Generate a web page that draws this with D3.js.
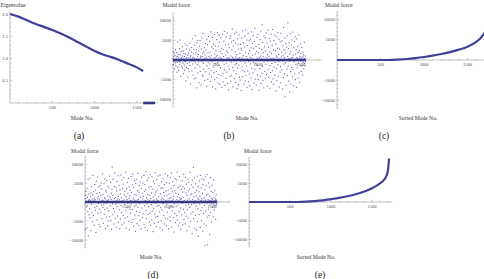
<!DOCTYPE html>
<meta charset="utf-8">
<style>
body { margin: 0; background: #ffffff; }
svg { display: block; }
.axis line, .axis path { stroke: #9a9a9a; stroke-width: 0.6px; fill: none; }
.ticklabel { font-family: "Liberation Serif", serif; font-size: 4.6px; fill: #555; }
.axislabel { font-family: "Liberation Serif", serif; font-size: 5.6px; fill: #333; }
.panel { font-family: "Liberation Serif", serif; font-size: 9.5px; fill: #222; text-anchor: middle; }
.curve { fill: none; stroke: #40409a; stroke-width: 2.2px; stroke-linejoin: round; }
.band { stroke: #34347f; stroke-width: 2.6px; }
.dot { fill: #4646b0; opacity: 0.85; }
</style>
<svg width=484 height=279></svg>
<script src="https://cdn.jsdelivr.net/npm/d3@7"></script>
<script>

// (a) eigenvalues against mode number
const eigenModes  = [0, 100, 200, 300, 400, 500, 600, 700, 800, 900, 1000, 1100, 1200, 1300, 1400, 1500, 1575];
const eigenValues = [2.0, 1.94, 1.86, 1.78, 1.71, 1.64, 1.56, 1.47, 1.37, 1.27, 1.17, 1.09, 1.03, 0.96, 0.88, 0.80, 0.72];
const eigenTail   = [1575, 1715];   // modes with zero eigenvalue

const eigenTicks = [0.5, 1.0, 1.5, 2.0];
const modeTicks  = [500, 1000, 1500];
const forceTicks = [-10000, -5000, 5000, 10000];

// (b) modal force, thousands, one value every 3 modes
const modeStep = 3;
const forceB = [
  0.3, -1.2, 0.8, 2.1, -0.4, 1.6, -2.3, 0.1, 1.1, -0.7, 2.6, -1.5, 0.5, -0.2, 1.9, -3.1, 0.9, -0.6, 4.6, -1.8,
  0.2, 1.4, -2.7, 0.7, -0.3, 2.9, -1.1, 5.1, -0.5, 1.3, -4.2, 0.4, 2.2, -1.6, 0.6, -0.1, 3.4, -2.0, 1.0, -0.8,
  2.4, -3.5, 0.3, 1.7, -1.3, 0.9, -2.6, 4.1, -0.4, 1.5, -5.3, 0.2, 2.8, -1.9, 0.6, 3.7, -0.9, -4.4, 1.2, 0.1,
  -2.2, 1.8, 0.5, -3.0, 2.5, -0.6, 4.3, -1.4, 0.8, -6.1, 1.1, 2.0, -0.2, 3.2, -2.8, 0.4, 5.4, -1.0, 0.7, -3.9, 1.6, -0.3, 2.7, -4.8,
  0.5, 3.8, -2.1, 6.2, -0.7, 1.9, -4.6, 0.3, 2.6, -7.1, 4.4, -1.2, 0.8, 5.0, -3.3, 1.4, -0.5, 2.3, -5.8, 0.2,
  3.5, -1.7, 4.9, -2.9, 0.6, 1.0, -6.4, 2.8, -0.3, 5.6, -3.8, 0.9, 1.7, -4.1, 6.8, -0.8, 2.1, -2.4, 0.4, 3.1,
  -5.2, 1.3, -0.1, 4.2, -3.0, 2.5, 0.7, -6.7, 5.3, -1.5, 0.3, 3.9, -4.9, 1.8, -0.6, 6.0, -2.2, 0.9, -3.6, 4.7,
  -1.0, 2.0, -5.5, 0.5, 7.2, -2.6, 1.1, -4.3, 3.3, -0.4, 5.8, -6.9, 0.2, 2.9, -1.8, 4.0, -3.2, 0.6, 6.5, -5.0, 1.5, -0.9, 3.6,
  -7.4, 2.4, 0.8, -2.9, 5.2, -4.5, 1.2, 7.0, -0.6, -5.9, 3.4, 0.3, -3.7, 6.3, -1.4, 4.5, -6.2, 0.7, 2.2, -2.0,
  5.7, -4.0, 0.4, 3.0, -7.0, 1.6, -0.2, 6.6, -3.4, 2.7, -5.6, 0.9, 4.8, -1.1, 7.3, -2.5, 0.1, -6.5, 3.8, 1.3,
  -4.7, 5.9, -0.8, 2.3, -3.1, 0.5, 6.9, -6.0, 1.9, -1.6, 4.1, -7.6, 0.6, 3.2, -2.3, 5.5, -4.2, 0.2, 6.1, -5.4,
  1.0, -0.5, 4.6, -3.9, 2.6, 7.9, -1.9, 0.7, -6.8, 3.6, 5.0, -2.7, 0.3, -4.8, 6.7, -1.2, 2.1, -5.7, 4.3, 0.8,
  -3.5, 7.1, -0.9, 1.4, -7.3, 5.4, -2.0, 0.4, 3.9, -6.3, 2.8, -1.3, 6.4, -4.4, 0.6, 1.7, -5.1, 4.0, -0.3, 3.0,
  -7.8, 2.5, 5.6, -1.7, 0.5, -4.3, 7.5, -2.6, 1.1, 4.4, -6.1, 0.2, 3.3, -3.0, 6.0, -0.7, -5.3, 2.0, 7.7, -4.0,
  0.9, -1.5, 5.1, -7.0, 3.7, 0.3, -2.8, 6.8, -5.5, 1.6, -0.4, 4.9, -3.6, 2.4, -6.6, 0.7, 5.3, -1.0, 3.1, -4.6,
  7.2, -2.1, 0.5, -7.5, 4.2, 1.2, -3.3, 6.2, -0.6, 2.9, -5.9, 0.1, 4.7, -2.4, 8.1, -4.9, 1.5, -0.8, 3.5, -6.4,
  2.2, 5.8, -1.3, 0.4, -3.8, 6.5, -5.0, 1.8, -0.2, 4.0, -7.7, 3.0, 0.6, -2.2, 5.2, -4.1, 1.0, 7.4, -6.0, 0.3,
  2.7, -3.4, 9.0, -1.6, 4.5, -5.2, 0.8, 1.9, -7.1, 6.1, -0.5, 3.4, -2.9, 0.2, 5.7, -4.7, 2.3, -1.1, 6.9, -3.7,
  0.6, 4.3, -6.7, 1.3, -0.3, 7.6, -2.5, 3.2, -4.4, 0.9, 5.5, -7.2, 2.1, -1.4, 4.8, -3.2, 0.4, 6.6, -5.6, 1.7,
  -0.9, 3.7, -2.7, 7.8, -4.8, 0.5, 2.6, -6.2, 5.0, -1.8, 0.2, -3.9, 6.3, -0.6, 2.4, -7.9, 4.1, 1.0, -2.1, 5.9,
  -5.3, 0.7, 3.0, -1.2, 7.0, -4.2, 1.4, -0.4, 5.3, -6.9, 2.8, 0.3, -3.1, 4.6, -1.7, 6.8, -5.8, 0.8, 2.0, -2.6,
  4.9, -0.2, -7.4, 3.6, 1.1, -4.5, 8.3, -1.0, 2.5, -3.5, 0.6, 5.6, -9.4, 1.8, -0.7, 4.2, -6.5, 0.1, 3.3, -2.3,
  6.2, -4.0, 0.9, 9.5, -1.5, 2.9, -5.4, 0.4, 4.4, -8.2, 1.6, -0.3, 6.7, -3.0, 2.2, -6.1, 0.5, 3.8, -1.9, 5.1,
  -4.3, 0.7, 7.1, -2.4, 1.2, -6.6, 3.1, -0.5, 4.7, -3.6, 0.2, 6.0, -5.0, 1.5, -1.1, 2.6, -7.0, 0.6, 5.4, -2.0,
  0.3, 3.5, -4.6, 1.9, -0.8, 6.4, -3.3, 0.4, 2.3, -5.7, 0.9, -1.4, 4.1, -0.2, 1.7, -2.9, 0.5, 3.2, -1.6, 0.1,
  -3.8, 0.8, 2.0, -0.6, 1.3, -2.2, 0.4, 4.5, -0.9, 0.3, -1.5, 1.0, -0.4, 0.2
];

// (d) modal force, thousands, one value every 3 modes
const forceD = [
  -0.5, 1.7, -7.3, 0.9, 2.8, -1.3, 0.2, -6.8, 3.6, -0.9, 1.2, -2.5, 5.9, -8.9, 0.4, 2.1, -3.4, 0.7, -1.8, 6.3,
  -4.1, 0.3, 1.5, -7.6, 2.4, -0.6, 4.0, -2.9, 0.8, -5.2, 1.9, 7.0, -0.2, -3.6, 2.7, 0.5, -6.1, 1.0, 4.6, -1.5,
  0.6, -2.2, 3.1, -8.0, 0.1, 5.5, -1.1, 2.2, -4.7, 0.9, 6.6, -3.0, 1.4, -0.4, 3.9, -5.9, 0.7, 2.5, -1.9, 4.3,
  -6.5, 0.2, 1.8, -2.7, 5.0, -0.8, 3.4, -4.4, 0.5, 7.4, -1.4, 2.0, -5.6, 0.3, -0.7, 4.8, -3.2, 1.1, 6.1, -2.0,
  0.8, -7.0, 3.0, -0.3, 2.6, -4.0, 5.7, -1.6, 0.4, -6.3, 1.6, 4.2, -2.4, 0.6, -5.0, 3.7, -0.1, 6.8, -3.8, 1.3,
  -1.0, 5.2, -4.9, 0.7, 2.3, -7.2, 3.3, 9.2, -0.5, 1.7, -3.3, 6.0, -1.7, 0.2, -5.8, 4.1, 0.9, -2.6, 7.6, -4.3,
  1.2, -0.6, 3.8, -6.6, 2.9, 0.4, -1.2, 5.4, -3.7, 0.8, 6.9, -5.3, 1.5, -0.2, 4.4, -2.1, 0.6, -7.0, 3.2, 2.1,
  -4.5, 7.1, -0.9, 1.1, -2.8, 5.8, -6.0, 0.3, 3.5, -1.3, 4.7, -3.5, 0.5, 6.4, -5.5, 1.9, -0.7, 2.8, -4.2, 0.1,
  7.8, -2.3, 1.4, -6.9, 3.6, 0.7, -1.5, 5.1, -3.9, 2.2, -0.3, 6.2, -5.1, 0.9, 4.0, -7.4, 1.6, -1.9, 3.1, 0.4,
  -3.0, 6.7, -0.6, 2.5, -5.4, 4.5, 0.2, -2.0, 7.3, -4.6, 1.0, 3.8, -6.4, 0.6, -1.1, 5.6, -3.4, 2.0, 0.3, -7.7,
  4.9, -0.8, 1.8, -2.5, 6.0, -5.7, 0.5, 3.0, -1.4, 7.5, -3.6, 0.7, -6.2, 2.6, 4.3, -0.4, -2.7, 5.3, -4.8, 1.2,
  0.1, -7.1, 3.5, 6.5, -1.6, 2.3, -4.1, 0.8, 5.0, -3.1, 1.5, -0.2, 7.0, -5.9, 2.8, -1.0, 4.6, -6.7, 0.4, 3.3,
  -2.2, 8.0, -4.4, 1.1, -0.5, 5.7, -7.5, 2.0, 0.6, -3.3, 6.3, -1.2, 3.9, -5.2, 0.3, 1.7, -2.9, 7.2, -6.1, 0.9,
  4.1, -0.7, 2.4, -4.7, 6.6, -2.4, 0.2, 3.4, -7.8, 1.3, 5.5, -1.8, 0.5, -5.6, 4.8, -3.2, 1.9, 7.7, -0.3, -4.0,
  2.7, -6.5, 0.8, 5.9, -1.1, 3.2, -3.8, 0.4, 6.8, -5.3, 1.4, -0.9, 4.3, -2.6, 0.1, 7.1, -6.8, 2.2, -1.5, 3.6,
  -4.9, 0.6, 5.4, -2.1, 1.0, -7.3, 3.7, 6.1, -0.4, 2.5, -3.5, 0.7, -5.8, 4.6, 1.6, -1.3, 7.4, -4.3, 0.3, 2.9,
  -6.2, 5.1, -0.6, 1.8, -2.7, 6.9, -4.5, 0.5, 3.1, -7.0, 2.1, -1.7, 4.9, -0.2, 0.9, -3.9, 6.4, -5.0, 1.2, 3.5,
  -1.0, 7.6, -6.6, 0.4, 2.7, -2.3, 5.3, -4.1, 0.8, 1.5, -7.9, 4.4, -0.5, 3.0, -3.0, 6.2, 0.2, -5.4, 2.3, -1.2,
  5.8, -3.6, 0.6, 7.9, -4.8, 1.4, -0.8, 3.8, -6.3, 2.0, 0.3, -2.5, 6.7, -5.5, 1.1, 4.2, -1.6, 0.7, -7.2, 3.3,
  0.9, -3.4, 5.6, -0.3, 2.6, -6.0, 4.0, 1.2, -1.9, 7.3, -4.6, 0.4, 3.6, -2.8, 0.1, -5.7, 6.5, -0.9, 2.4, -3.7,
  4.7, -7.6, 1.7, 0.5, -2.0, 6.0, -4.2, 2.9, -0.6, 5.2, -6.4, 0.8, 3.4, -1.4, 7.8, -5.1, 0.2, 1.9, -3.1, 4.5,
  -0.7, 2.2, -8.3, 5.7, 0.6, -2.6, 3.9, 9.1, -4.4, 1.3, -0.4, 6.3, -6.9, 2.5, 0.3, -3.5, 4.8, -1.1, 1.6, -7.4,
  3.0, -0.2, 6.8, -5.2, 1.0, -1.8, 4.1, -9.0, 0.7, 2.7, -3.3, 5.5, -0.5, 1.4, -6.7, 7.0, -2.2, 0.4, 3.7, -4.9,
  0.9, 6.1, -1.5, 2.3, -7.7, 4.6, 0.2, -3.0, 5.9, -5.8, 1.1, -0.9, 3.2, -11.5, 6.6, 0.5, -2.4, 4.3, -6.2, 1.8,
  -0.3, 7.2, -4.0, -11.3, 2.1, 0.6, -1.9, 5.0, -3.5, 0.3, 3.9, -8.6, 1.5, -0.8, 6.4, -2.7, 0.4, 2.8, -5.3, 1.0,
  -0.5, 4.4, -1.3, 0.7, 2.5, -3.9, 0.2, 5.8, -0.6, 1.2, -2.1, 0.4, 3.1, -1.0, 0.8, -4.6, 0.3, 1.9, -0.7, 0.5, -0.2
];

// (c) sorted modal force
const sortedModesC = [0, 600, 700, 800, 900, 1000, 1100, 1200, 1300, 1400, 1500, 1600, 1650, 1700, 1740];
const sortedForceC = [0, 0, 90, 240, 460, 740, 1080, 1480, 1950, 2550, 3300, 4500, 5400, 6800, 8000];

// (e) sorted modal force
const sortedModesE = [0, 600, 700, 800, 900, 1000, 1100, 1200, 1300, 1400, 1500, 1600, 1650, 1680, 1695, 1702, 1707];
const sortedForceE = [0, 0, 80, 240, 450, 760, 1100, 1520, 2050, 2750, 3650, 5000, 6000, 7200, 8600, 10000, 11600];

var svg = d3.select("svg");

function drawAxes(g, x, y, o) {
  var ax = g.append("g").attr("class", "axis");
  var y0 = y(o.xAxisAt), x0 = x(0);
  // x axis with minor ticks
  ax.append("line").attr("x1", x0).attr("x2", x.range()[1]).attr("y1", y0).attr("y2", y0);
  ax.selectAll(".xt").data(d3.range(100, x.domain()[1], 100)).enter().append("line")
    .attr("x1", function(d) { return x(d); }).attr("x2", function(d) { return x(d); })
    .attr("y1", y0).attr("y2", function(d) { return y0 - (d % 500 === 0 ? 2.2 : 1.2); });
  // y axis with minor ticks
  ax.append("line").attr("x1", x0).attr("x2", x0).attr("y1", y.range()[0]).attr("y2", y.range()[1]);
  ax.selectAll(".yt").data(o.minor).enter().append("line")
    .attr("y1", function(d) { return y(d); }).attr("y2", function(d) { return y(d); })
    .attr("x1", x0).attr("x2", function(d) { return x0 + (o.major.indexOf(d) >= 0 ? 2.2 : 1.2); });

  g.selectAll(".xl").data(modeTicks).enter().append("text")
    .attr("class", "ticklabel").attr("text-anchor", "middle")
    .attr("x", function(d) { return x(d); }).attr("y", y0 + 6)
    .text(function(d) { return d; });
  g.selectAll(".yl").data(o.major).enter().append("text")
    .attr("class", "ticklabel").attr("text-anchor", "end")
    .attr("x", x0 - 2).attr("y", function(d) { return y(d) + 1.6; })
    .text(o.fmt);

  g.append("text").attr("class", "axislabel").attr("x", o.title[0]).attr("y", o.title[1]).text(o.titleText);
  g.append("text").attr("class", "axislabel").attr("text-anchor", "middle")
    .attr("x", o.xlab[0]).attr("y", o.xlab[1]).text(o.xlabText);
  g.append("text").attr("class", "panel").attr("x", o.panel[0]).attr("y", o.panel[1]).text(o.panelText);
}

var forceMinor = d3.range(-12000, 12001, 1000).filter(function(d) { return d !== 0; });
var forceFmt = function(d) { return d < 0 ? "\u2212" + Math.abs(d) : d; };

// ---- (a) ----
var ga = svg.append("g");
var xa = d3.scaleLinear().domain([0, 1750]).range([10, 158]);
var ya = d3.scaleLinear().domain([0, 2.08]).range([103, 10.4]);
drawAxes(ga, xa, ya, {
  xAxisAt: 0, major: eigenTicks, minor: d3.range(1, 21).map(function(d) { return d / 10; }),
  fmt: function(d) { return d.toFixed(1); },
  title: [0.5, 6.5], titleText: "Eigenvalue",
  xlab: [82, 120], xlabText: "Mode No.",
  panel: [79, 139], panelText: "(a)"
});
ga.append("path").datum(d3.zip(eigenModes, eigenValues)).attr("class", "curve")
  .attr("d", d3.line().curve(d3.curveMonotoneX).x(function(d) { return xa(d[0]); }).y(function(d) { return ya(d[1]); }));
ga.append("line").attr("class", "band")
  .attr("x1", xa(eigenTail[0])).attr("x2", xa(eigenTail[1])).attr("y1", ya(0)).attr("y2", ya(0));

// scatter panels (b) and (d)
function scatterPanel(values, x, y, o) {
  var g = svg.append("g");
  drawAxes(g, x, y, o);
  var last = (values.length - 1) * modeStep;
  g.append("line").attr("class", "band")
    .attr("x1", x(0)).attr("x2", x(last)).attr("y1", y(0)).attr("y2", y(0));
  g.selectAll(".dot").data(values).enter().append("rect")
    .attr("class", "dot")
    .attr("x", function(d, i) { return x(i * modeStep) - 0.55; })
    .attr("y", function(d) { return y(d * 1000) - 0.55; })
    .attr("width", 1.1).attr("height", 1.1);
}

scatterPanel(forceB,
  d3.scaleLinear().domain([0, 1750]).range([173, 322]),
  d3.scaleLinear().domain([-12000, 12000]).range([107, 13]), {
  xAxisAt: 0, major: forceTicks, minor: forceMinor, fmt: forceFmt,
  title: [162.5, 7], titleText: "Modal force",
  xlab: [247, 120], xlabText: "Mode No.",
  panel: [229, 139], panelText: "(b)"
});

scatterPanel(forceD,
  d3.scaleLinear().domain([0, 1714]).range([85, 230]),
  d3.scaleLinear().domain([-12000, 12000]).range([247.6, 156.4]), {
  xAxisAt: 0, major: forceTicks, minor: forceMinor, fmt: forceFmt,
  title: [71, 153], titleText: "Modal force",
  xlab: [151, 259], xlabText: "Mode No.",
  panel: [153, 278], panelText: "(d)"
});

// sorted panels (c) and (e)
function sortedPanel(modes, values, x, y, o) {
  var g = svg.append("g");
  drawAxes(g, x, y, o);
  g.append("path").datum(d3.zip(modes, values)).attr("class", "curve")
    .attr("d", d3.line().curve(d3.curveMonotoneX).x(function(d) { return x(d[0]); }).y(function(d) { return y(d[1]); }));
}

sortedPanel(sortedModesC, sortedForceC,
  d3.scaleLinear().domain([0, 1690]).range([337, 484]),
  d3.scaleLinear().domain([-12000, 12000]).range([108.6, 11.4]), {
  xAxisAt: 0, major: forceTicks, minor: forceMinor, fmt: forceFmt,
  title: [325, 7], titleText: "Modal force",
  xlab: [418, 120], xlabText: "Sorted Mode No.",
  panel: [384, 139], panelText: "(c)"
});

sortedPanel(sortedModesE, sortedForceE,
  d3.scaleLinear().domain([0, 1750]).range([249, 392.5]),
  d3.scaleLinear().domain([-12000, 12000]).range([247, 157]), {
  xAxisAt: 0, major: forceTicks, minor: forceMinor, fmt: forceFmt,
  title: [244, 153], titleText: "Modal force",
  xlab: [316, 259], xlabText: "Sorted Mode No.",
  panel: [320, 278], panelText: "(e)"
});

</script>
